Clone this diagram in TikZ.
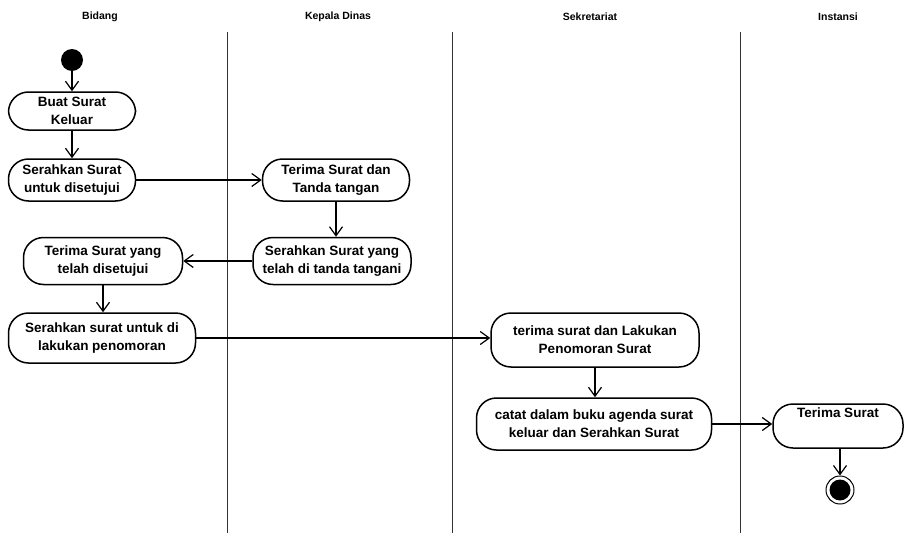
\documentclass[tikz,border=0pt]{standalone}
\usepackage{fontspec}
\setmainfont{Liberation Sans}
\usetikzlibrary{arrows.meta}
\begin{document}
\begin{tikzpicture}[x=1pt,y=-1pt,
  act/.style={draw=black,line width=1.5pt,rounded corners=20pt,align=center,
    inner sep=0pt,font=\bfseries\fontsize{13.5}{18}\selectfont},
  lane/.style={draw=black!80,line width=0.9pt},
  head/.style={font=\bfseries\fontsize{10.5}{12}\selectfont},
  flow/.style={draw=black,line width=1.2pt,-{Straight Barb[length=9pt,width=13pt,line width=1.2pt]}}]
\useasboundingbox (0,0) rectangle (922,533);

% swimlane headers and dividers
\node[head] (hB) at (100,17) {Bidang};
\node[head] (hK) at (338,17) {Kepala Dinas};
\node[head] (hS) at (590,17) {Sekretariat};
\node[head] (hI) at (838,17) {Instansi};
\draw[lane] (227,32) -- (227,533);
\draw[lane] (452,32) -- (452,533);
\draw[lane] (740,32) -- (740,533);

% start and end
\node[circle,fill=black,minimum size=22pt,inner sep=0pt] (start) at (72,60) {};
\node[circle,draw=black,line width=1pt,minimum size=28pt,inner sep=0pt] (endo) at (840,490) {};
\node[circle,fill=black,minimum size=21pt,inner sep=0pt] (endi) at (840,490) {};

% activities
\node[act,minimum width=127pt,minimum height=38pt] (buat) at (72,111) {Buat Surat\\Keluar};
\node[act,minimum width=127pt,minimum height=42pt] (serah1) at (72,180) {Serahkan Surat\\untuk disetujui};
\node[act,minimum width=147pt,minimum height=42pt] (terima1) at (336,180) {Terima Surat dan\\Tanda tangan};
\node[act,minimum width=158pt,minimum height=47pt] (serah2) at (332,261) {Serahkan Surat yang\\telah di tanda tangani};
\node[act,minimum width=159pt,minimum height=47pt] (terima2) at (103,261) {Terima Surat yang\\telah disetujui};
\node[act,minimum width=187pt,minimum height=50pt] (serah3) at (102,338) {Serahkan surat untuk di\\lakukan penomoran};
\node[act,minimum width=208pt,minimum height=54pt] (terima3) at (595,340) {terima surat dan Lakukan\\Penomoran Surat};
\node[act,minimum width=235pt,minimum height=52pt] (catat) at (594,424) {catat dalam buku agenda surat\\keluar dan Serahkan Surat};
\node[act,minimum width=130pt,minimum height=44pt] (terimaS) at (838,426) {Terima Surat\\[8pt]};

% control flow
\draw[flow] (start) -- (buat);
\draw[flow] (buat) -- (serah1);
\draw[flow] (serah1) -- (terima1);
\draw[flow] (terima1.south) -- (terima1.south |- serah2.north);
\draw[flow] (serah2) -- (terima2);
\draw[flow] (terima2.south) -- (terima2.south |- serah3.north);
\draw[flow] (serah3.east) -- (serah3.east -| terima3.west);
\draw[flow] (terima3.south) -- (terima3.south |- catat.north);
\draw[flow] (catat.east) -- (catat.east -| terimaS.west);
\draw[flow] (terimaS.south -| endo.north) -- (endo.north);
\end{tikzpicture}
\end{document}
